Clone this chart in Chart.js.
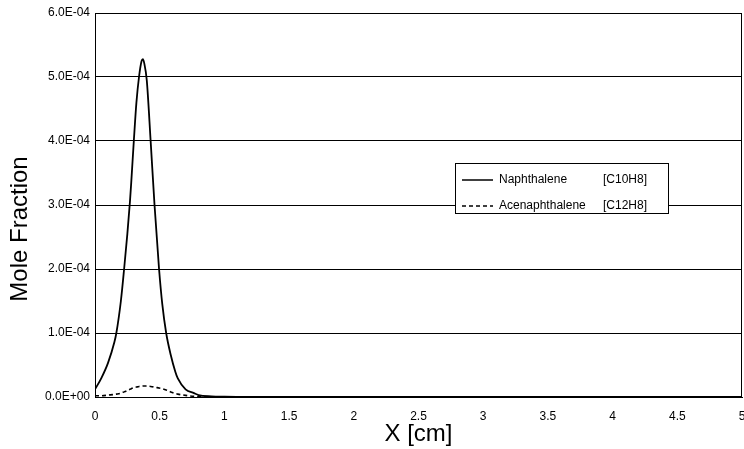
<!DOCTYPE html>
<html>
<head>
<meta charset="utf-8">
<script src="https://cdn.jsdelivr.net/npm/chart.js@4/dist/chart.umd.min.js"></script>
<style>
  html, body { margin: 0; padding: 0; background: #fff; }
  #wrap { position: relative; width: 744px; height: 449px; }
</style>
</head>
<body>
<div id="wrap"><canvas id="c" width="744" height="449"></canvas></div>
<script>
// ---- data ----
const xValues = [0, 0.05, 0.1, 0.15, 0.165, 0.2, 0.225, 0.25, 0.27, 0.28,
                 0.3, 0.32, 0.34, 0.36, 0.37, 0.38, 0.4, 0.43, 0.46, 0.495,
                 0.52, 0.55, 0.585, 0.62, 0.64, 0.7, 0.765, 0.8, 0.9, 1.0,
                 1.5, 2, 2.5, 3, 3.5, 4, 4.5, 5];
const naphthalene = [1.2e-5, 3.0e-5, 5.3e-5, 8.6e-5, 1.0e-4, 1.5e-4, 2.0e-4, 2.55e-4, 3.05e-4, 3.35e-4,
                     4.0e-4, 4.6e-4, 5.0e-4, 5.25e-4, 5.28e-4, 5.22e-4, 4.95e-4, 4.0e-4, 3.0e-4, 2.0e-4,
                     1.45e-4, 1.0e-4, 6.6e-5, 4.0e-5, 2.9e-5, 1.2e-5, 6e-6, 3e-6, 1e-6, 5e-7,
                     0, 0, 0, 0, 0, 0, 0, 0];
const acenaphthalene = [2e-6, 2e-6, 3e-6, 4e-6, 4.5e-6, 6e-6, 8e-6, 1.0e-5, 1.2e-5, 1.3e-5,
                        1.45e-5, 1.55e-5, 1.65e-5, 1.7e-5, 1.72e-5, 1.73e-5, 1.7e-5, 1.65e-5, 1.55e-5, 1.4e-5,
                        1.3e-5, 1.1e-5, 8e-6, 5.5e-6, 4.5e-6, 2.5e-6, 1e-6, 5e-7, 0, 0,
                        0, 0, 0, 0, 0, 0, 0, 0];
const seriesLabels = ['Naphthalene', 'Acenaphthalene'];
const seriesFormulas = ['[C10H8]', '[C12H8]'];
const yTickValues = [0, 1e-4, 2e-4, 3e-4, 4e-4, 5e-4, 6e-4];
const xTitle = 'X [cm]';
const yTitle = 'Mole Fraction';

function fmtE(v) {
  if (Math.abs(v) < 1e-12) return '0.0E+00';
  const s = v.toExponential(1);            // e.g. "6.0e-4"
  const [m, e] = s.split('e');
  const n = parseInt(e, 10);
  const sign = n < 0 ? '-' : '+';
  const d = String(Math.abs(n)).padStart(2, '0');
  return m + 'E' + sign + d;
}

const toPts = (ys) => xValues.map((x, i) => ({ x: x, y: ys[i] }));

const frameAndTitles = {
  id: 'frameAndTitles',
  afterDraw(chart) {
    const { ctx, chartArea: a } = chart;
    ctx.save();
    // plot frame
    ctx.strokeStyle = '#000';
    ctx.lineWidth = 1;
    ctx.strokeRect(a.left + 0.5, a.top + 0.5, a.right - a.left - 1, a.bottom - a.top);
    // y title
    ctx.fillStyle = '#000';
    ctx.font = '24px "Liberation Sans", Arial, sans-serif';
    ctx.translate(20, 229);
    ctx.rotate(-Math.PI / 2);
    ctx.textAlign = 'center';
    ctx.textBaseline = 'middle';
    ctx.fillText(yTitle, 0, 0);
    ctx.restore();

    // legend box
    ctx.save();
    const bx = 455, by = 163, bw = 213, bh = 50;
    ctx.fillStyle = '#fff';
    ctx.fillRect(bx, by, bw, bh);
    ctx.strokeStyle = '#000';
    ctx.lineWidth = 1;
    ctx.strokeRect(bx + 0.5, by + 0.5, bw, bh);
    ctx.font = '12px "Liberation Sans", Arial, sans-serif';
    ctx.fillStyle = '#000';
    ctx.textBaseline = 'middle';
    const rows = [180, 206];
    chart.data.datasets.forEach((ds, i) => {
      const y = rows[i];
      ctx.beginPath();
      ctx.setLineDash(ds.borderDash || []);
      ctx.lineWidth = 1.5;
      ctx.moveTo(462, y);
      ctx.lineTo(493, y);
      ctx.stroke();
      ctx.setLineDash([]);
      ctx.textAlign = 'left';
      ctx.fillText(seriesLabels[i], 499, y);
      ctx.fillText(seriesFormulas[i], 603, y);
    });
    ctx.restore();
  }
};

new Chart(document.getElementById('c'), {
  type: 'line',
  data: {
    datasets: [
      {
        label: seriesLabels[0] + ' ' + seriesFormulas[0],
        data: toPts(naphthalene),
        borderColor: '#000',
        borderWidth: 1.8,
        pointRadius: 0,
        cubicInterpolationMode: 'monotone',
        fill: false
      },
      {
        label: seriesLabels[1] + ' ' + seriesFormulas[1],
        data: toPts(acenaphthalene),
        borderColor: '#000',
        borderWidth: 1.6,
        borderDash: [4, 3],
        pointRadius: 0,
        cubicInterpolationMode: 'monotone',
        fill: false
      }
    ]
  },
  options: {
    responsive: false,
    animation: false,
    devicePixelRatio: 1,
    layout: { padding: { top: 13, right: 2, bottom: 0, left: 0 } },
    plugins: {
      legend: { display: false },
      tooltip: { enabled: false }
    },
    scales: {
      x: {
        type: 'linear',
        min: 0,
        max: 5,
        afterFit(s) { s.height = 52; s.paddingRight = 0; s.paddingLeft = 0; },
        ticks: {
          stepSize: 0.5,
          padding: 4,
          color: '#000',
          maxRotation: 0,
          font: { family: '"Liberation Sans", Arial, sans-serif', size: 12 },
          callback: (v) => String(Math.round(v * 10) / 10)
        },
        grid: { display: false },
        border: { display: true, color: '#000', width: 1 },
        title: {
          display: true,
          text: xTitle,
          color: '#000',
          font: { family: '"Liberation Sans", Arial, sans-serif', size: 24 },
          padding: { top: 0, bottom: 0 }
        }
      },
      y: {
        min: 0,
        max: 6e-4,
        afterFit(s) { s.width = 95; },
        afterBuildTicks(s) { s.ticks = yTickValues.map(v => ({ value: v })); },
        ticks: {
          padding: 5,
          color: '#000',
          font: { family: '"Liberation Sans", Arial, sans-serif', size: 12 },
          callback: (v) => fmtE(v)
        },
        grid: { color: '#000', lineWidth: 1, drawTicks: false },
        border: { display: true, color: '#000', width: 1 }
      }
    }
  },
  plugins: [frameAndTitles]
});
</script>
</body>
</html>
